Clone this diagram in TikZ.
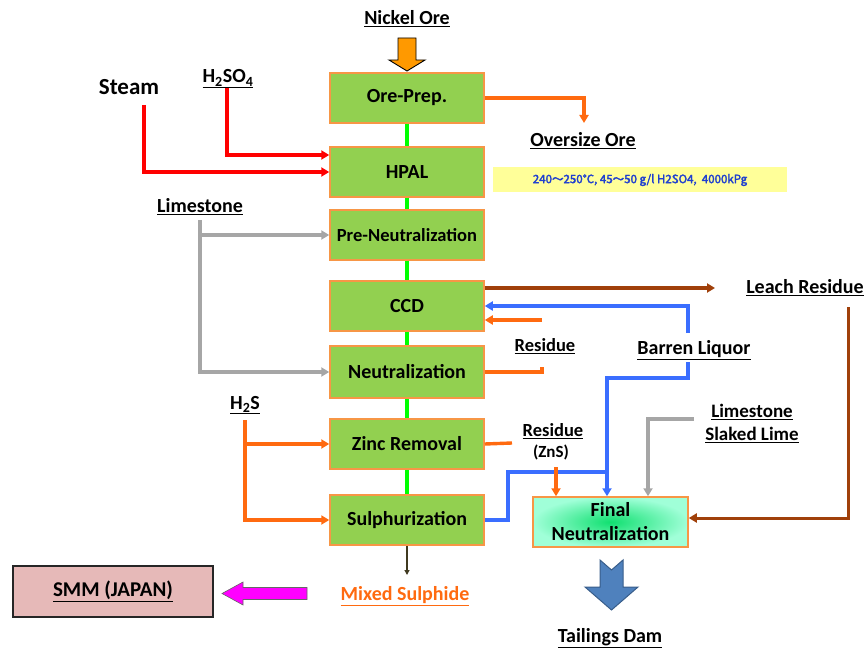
\documentclass[tikz,border=0pt]{standalone}
\usepackage{fontspec}
\setmainfont{Carlito}
\newfontfamily\cjk{Noto Sans CJK SC}[AutoFakeBold=2.5]
\usetikzlibrary{arrows.meta}
\definecolor{bgreen}{HTML}{92D050}
\definecolor{bord}{HTML}{F79646}
\definecolor{lor}{HTML}{FF6A10}
\definecolor{lgrey}{HTML}{A6A6A6}
\definecolor{lbrown}{HTML}{A0400A}
\definecolor{lblue}{HTML}{3A6EFF}
\definecolor{lgreen}{HTML}{00FF00}
\definecolor{smmfill}{HTML}{E6B9B8}
\definecolor{ybox}{HTML}{FFFF99}
\definecolor{ytext}{HTML}{1F3FD0}
\definecolor{dkolive}{HTML}{403A20}
\definecolor{tailblue}{HTML}{4F81BD}
\definecolor{tailedge}{HTML}{385D8A}
\definecolor{nickor}{HTML}{FF9900}
\definecolor{magarrow}{HTML}{FF00FF}
\definecolor{fnin}{HTML}{10E070}
\definecolor{fnout}{HTML}{A0FFD8}
\begin{document}
\begin{tikzpicture}[x=1pt,y=-1pt,
  procbox/.style={draw=bord, fill=bgreen, line width=1.5pt, minimum width=154pt, minimum height=50pt, inner sep=0pt, font=\fontsize{20}{22}\selectfont\bfseries},
  lab/.style={inner sep=0pt, font=\fontsize{20}{22}\selectfont\bfseries},
  tip/.style={-{Triangle[length=8pt,width=9pt]}},
  redln/.style={draw=red, line width=3.4pt, tip},
  orln/.style={draw=lor, line width=3.4pt},
  greyln/.style={draw=lgrey, line width=3.4pt},
  brownln/.style={draw=lbrown, line width=3pt},
  blueln/.style={draw=lblue, line width=3.4pt},
  greenln/.style={draw=lgreen, line width=3.4pt},
]
\useasboundingbox (0,0) rectangle (867,652);

% process boxes
\node[procbox] (oreprep) at (407,98) {Ore-Prep.};
\node[procbox] (hpal) at (407,172) {HPAL};
\node[procbox, font=\fontsize{18.5}{20}\selectfont\bfseries] (preneut) at (407,235) {Pre-Neutralization};
\node[procbox] (ccd) at (407,306) {CCD};
\node[procbox, minimum height=52pt] (neut) at (407,372) {Neutralization};
\node[procbox] (zinc) at (407,444) {Zinc Removal};
\node[procbox] (sulph) at (407,520) {Sulphurization};
\node[draw=bord, line width=1.5pt, inner color=fnin, outer color=fnout, minimum width=155pt, minimum height=50pt, inner sep=0pt, align=center, font=\fontsize{20}{24}\selectfont\bfseries] (finaln) at (610.5,522) {Final\\Neutralization};
\node[draw=black!85, fill=smmfill, line width=1.5pt, minimum width=200pt, minimum height=51pt, inner sep=0pt, font=\fontsize{21}{22}\selectfont\bfseries] (smm) at (113,591.5) {\underline{SMM (JAPAN)}};
\node[fill=ybox, minimum width=294pt, minimum height=25pt, inner sep=0pt, text=ytext, font=\cjk\bfseries\fontsize{11.5}{13}\selectfont] (cond) at (640,180) {240～250℃, 45～50 g/l H2SO4,\ \ 4000kPg};

% green main connectors
\draw[greenln] (oreprep) -- (hpal);
\draw[greenln] (hpal) -- (preneut);
\draw[greenln] (preneut) -- (ccd);
\draw[greenln] (ccd) -- (neut);
\draw[greenln] (neut) -- (zinc);
\draw[greenln] (zinc) -- (sulph);

% labels
\node[lab] (nickel) at (407,19) {\underline{Nickel Ore}};
\node[lab, font=\fontsize{23}{25}\selectfont\bfseries] (steam) at (129,87) {Steam};
\node[lab] (h2so4) at (228,79) {\underline{H\textsubscript{2}SO\textsubscript{4}}};
\node[lab] (oversize) at (583,141) {\underline{Oversize Ore}};
\node[lab] (lime1) at (200,207) {\underline{Limestone}};
\node[lab] (leach) at (805,288) {\underline{Leach Residue}};
\node[lab, font=\fontsize{18.5}{20}\selectfont\bfseries] (res1) at (545,346) {\underline{Residue}};
\node[lab] (barren) at (694,350) {\underline{Barren Liquor}};
\node[lab] (h2s) at (245,405) {\underline{H\textsubscript{2}S}};
\node[lab, font=\fontsize{18.5}{20}\selectfont\bfseries] (res2) at (553,431) {\underline{Residue}};
\node[lab, font=\fontsize{17}{18}\selectfont\bfseries] (zns) at (551,452) {(ZnS)};
\node[lab, font=\fontsize{19}{20}\selectfont\bfseries] (lime2) at (752,412) {\underline{Limestone}};
\node[lab, font=\fontsize{19}{20}\selectfont\bfseries] (slaked) at (752,435) {\underline{Slaked Lime}};
\node[lab, text=lor] (mixed) at (405,596) {\underline{Mixed Sulphide}};
\node[lab] (tail) at (610,638) {\underline{Tailings Dam}};

% free-end coordinates
\coordinate (steamS) at (144,105);
\coordinate (h2so4S) at (227,88);
\coordinate (ovtip) at (584,123);
\coordinate (limeS) at (200,220);
\coordinate (leachtip) at (715,288);
\coordinate (leachS) at (848,307);
\coordinate (blA) at (688,333);
\coordinate (blB) at (688,362);
\coordinate (resA) at (542,367);
\coordinate (resB) at (542,320);
\coordinate (zincend) at (512,443);
\coordinate (znsS) at (556,467);
\coordinate (lime2S) at (694,419);
\coordinate (h2sS) at (245,420);
\coordinate (mixtip) at (407,575);
\coordinate (bljoin) at (607,472);

% block arrows
\draw[fill=nickor, draw=black, line width=0.9pt] (398,38) -- (416,38) -- (416,60) -- (425,60) -- (407,71) -- (389,60) -- (398,60) -- cycle;
\draw[fill=magarrow, draw=black!60, line width=0.6pt] (222,593.5) -- (243,582) -- (243,587.5) -- (307,587.5) -- (307,599.5) -- (243,599.5) -- (243,605) -- cycle;
\draw[fill=tailblue, draw=tailedge, line width=1pt] (600,560) -- (611.5,570) -- (623,560) -- (623,587) -- (638,587) -- (611.5,610) -- (585,587) -- (600,587) -- cycle;

% red feeds
\draw[redln] (steamS) |- (hpal.west);
\draw[redln] (h2so4S) |- ([yshift=17pt]hpal.west);

% oversize
\draw[orln, tip] (oreprep.east) -| (ovtip);

% limestone
\draw[greyln, tip] (limeS) |- (neut.west);
\draw[greyln, tip] (limeS |- preneut.west) -- (preneut.west);

% CCD brown
\draw[brownln, tip] ([yshift=18pt]ccd.east) -- (leachtip);
\draw[brownln, tip] (leachS) |- ([yshift=4pt]finaln.east);

% barren liquor
\draw[blueln, tip] (blA) |- (ccd.east);
\draw[blueln, tip] (blB) -- (688,378) -| ([xshift=-3.5pt]finaln.north);
\draw[blueln] (sulph.east) -| (508,472) -- (bljoin);

% residue to CCD
\draw[orln] (neut.east) -| (resA);
\draw[orln, tip] (resB) -- ([yshift=-14pt]ccd.east);

% zinc removal residue
\draw[orln] (zinc.east) -- (zincend);
\draw[orln, tip] (znsS) -- ([xshift=-54.5pt]finaln.north);

% limestone / slaked lime
\draw[greyln, tip] (lime2S) -| ([xshift=37.5pt]finaln.north);

% H2S
\draw[orln, tip] (h2sS) |- (sulph.west);
\draw[orln, tip] (h2sS |- zinc.west) -- (zinc.west);

% mixed sulphide
\draw[draw=dkolive, line width=1.6pt, -{Triangle[length=5pt,width=5pt]}] (sulph.south) -- (mixtip);
\end{tikzpicture}
\end{document}
